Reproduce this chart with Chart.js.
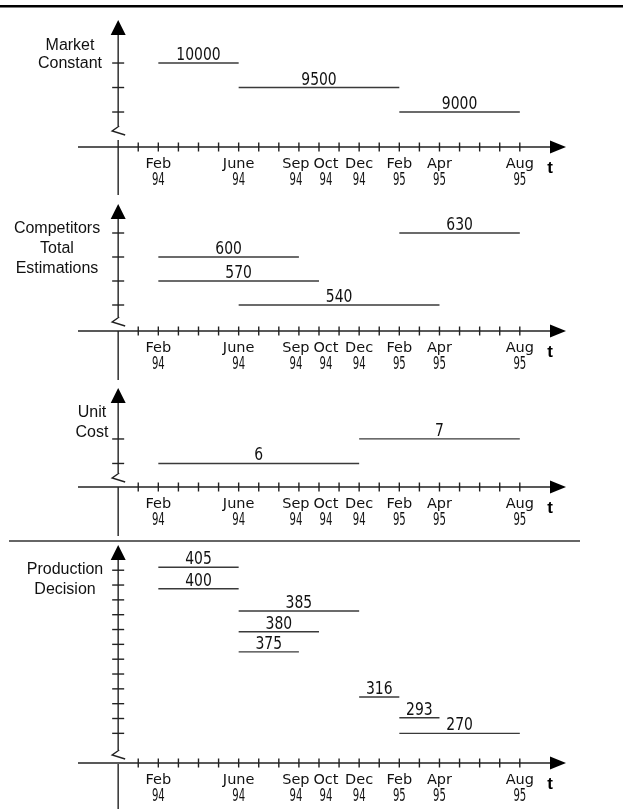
<!DOCTYPE html>
<html lang="en">
<head>
<meta charset="UTF-8">
<title>Decision timeline</title>
<script src="https://cdn.jsdelivr.net/npm/chart.js"></script>
<style>
  body { margin: 0; background: #fff; }
  #page { position: relative; width: 623px; height: 809px; }
  canvas { position: absolute; left: 0; }
</style>
</head>
<body>
<div id="page">
  <canvas id="market" width="623" height="195" style="top:0px"></canvas>
  <canvas id="comp" width="623" height="185" style="top:195px"></canvas>
  <canvas id="cost" width="623" height="156" style="top:380px"></canvas>
  <canvas id="prod" width="623" height="273" style="top:536px"></canvas>
</div>

<script>
// months counted from Dec 93 = 0
const tickMonths = [2, 6, 9, 10, 12, 14, 16, 20];
const tickNames = ['Feb', 'June', 'Sep', 'Oct', 'Dec', 'Feb', 'Apr', 'Aug'];
const tickYears = ['94', '94', '94', '94', '94', '95', '95', '95'];

const marketStart = [2, 6, 14];
const marketEnd = [6, 14, 20];
const marketValue = [10000, 9500, 9000];
const marketTicks = [9000, 9500, 10000];

const compStart = [14, 2, 2, 6];
const compEnd = [20, 9, 10, 16];
const compValue = [630, 600, 570, 540];
const compTicks = [540, 570, 600, 630];

const costStart = [12, 2];
const costEnd = [20, 12];
const costValue = [7, 6];
const costTicks = [6, 7];

// production decisions are stacked on a schematic scale, not to value
const prodStart = [2, 2, 6, 6, 6, 12, 14, 14];
const prodEnd = [6, 6, 12, 10, 9, 14, 16, 20];
const prodValue = [405, 400, 385, 380, 375, 316, 293, 270];
const prodLevel = [13.2, 11.75, 10.25, 8.85, 7.5, 4.45, 3.05, 2.0];
const prodTicks = [2, 3, 4, 5, 6, 7, 8, 9, 10, 11, 12, 13];

function line(ctx, x1, y1, x2, y2) {
  ctx.beginPath();
  ctx.moveTo(x1, y1);
  ctx.lineTo(x2, y2);
  ctx.stroke();
}

function tri(ctx, pts) {
  ctx.beginPath();
  ctx.moveTo(pts[0], pts[1]);
  ctx.lineTo(pts[2], pts[3]);
  ctx.lineTo(pts[4], pts[5]);
  ctx.closePath();
  ctx.fill();
}

// narrow text: squeeze horizontally around the anchor
function squeezed(ctx, s, x, y, font, sx) {
  ctx.save();
  ctx.translate(x, y);
  ctx.scale(sx, 1);
  ctx.font = font;
  ctx.fillText(s, 0, 0);
  ctx.restore();
}

const labelShift = { 9: -3, 10: 7 };

const schema = {
  id: 'schema',
  afterDraw(chart, args, o) {
    const ctx = chart.ctx;
    const xs = chart.scales.x, ys = chart.scales.y, a = chart.chartArea;
    const x0 = xs.getPixelForValue(0);
    const yAx = a.bottom;
    ctx.save();

    if (o.rule) {
      ctx.fillStyle = o.rule.color;
      ctx.fillRect(o.rule.x1, o.rule.y, o.rule.x2 - o.rule.x1, o.rule.w);
    }

    ctx.strokeStyle = '#222';
    ctx.fillStyle = '#000';
    ctx.lineWidth = 1.4;

    // y axis with break
    const c = yAx - o.breakOff;
    line(ctx, x0, a.top + 14, x0, c - 6);
    line(ctx, x0, c + 8, x0, chart.height);
    ctx.beginPath();
    ctx.moveTo(x0 + 1, c - 6);
    ctx.lineTo(x0 - 6, c - 1);
    ctx.lineTo(x0 + 7, c + 3);
    ctx.stroke();
    o.yTicks.forEach(v => {
      const y = ys.getPixelForValue(v);
      line(ctx, x0 - 6, y, x0 + 6, y);
    });
    tri(ctx, [x0, a.top, x0 - 7.5, a.top + 15, x0 + 7.5, a.top + 15]);

    // x axis
    line(ctx, a.left, yAx, a.right - 12, yAx);
    xs.ticks.forEach(t => {
      const x = xs.getPixelForValue(t.value);
      line(ctx, x, yAx - 4.5, x, yAx + 4.5);
    });
    tri(ctx, [a.right, yAx, a.right - 16, yAx - 6.5, a.right - 16, yAx + 6.5]);

    ctx.textAlign = 'center';
    ctx.textBaseline = 'alphabetic';
    ctx.font = 'bold 17px "Liberation Sans", Arial, sans-serif';
    ctx.fillText('t', a.right - 16, yAx + 26);

    // month / year labels
    ctx.fillStyle = '#111';
    xs.ticks.forEach(t => {
      const k = tickMonths.indexOf(t.value);
      if (k < 0) return;
      const x = xs.getPixelForValue(t.value) + (labelShift[t.value] || 0);
      ctx.font = '14.5px "DejaVu Sans", sans-serif';
      ctx.fillText(tickNames[k], x, yAx + 21);
      squeezed(ctx, tickYears[k], x, yAx + 38, '17px "DejaVu Sans Condensed", sans-serif', 0.66);
    });

    // axis title
    ctx.font = '16px "Liberation Sans", Arial, sans-serif';
    o.title.forEach((s, i) => ctx.fillText(s, o.titleX, o.titleY + i * o.titleLH));

    // segment values
    chart.data.datasets.forEach((d, i) => {
      const pts = chart.getDatasetMeta(i).data;
      squeezed(ctx, d.label, (pts[0].x + pts[1].x) / 2, pts[0].y - 3,
        '18px "DejaVu Sans Condensed", sans-serif', 0.86);
    });
    ctx.restore();
  }
};

function makePanel(id, p) {
  const datasets = p.start.map((s, i) => ({
    label: String(p.value[i]),
    data: [{ x: s, y: p.level[i] }, { x: p.end[i], y: p.level[i] }],
    borderColor: '#3a3a3a',
    borderWidth: 1.3,
    pointRadius: 0,
    fill: false,
    tension: 0
  }));

  return new Chart(document.getElementById(id), {
    type: 'line',
    data: { datasets },
    options: {
      responsive: false,
      animation: false,
      events: [],
      layout: { padding: { top: p.padTop, left: 78, right: 57, bottom: 0 } },
      plugins: {
        legend: { display: false },
        tooltip: { enabled: false },
        schema: {
          yTicks: p.ticks, title: p.title, titleX: p.titleX, titleY: p.titleY,
          titleLH: p.titleLH, breakOff: p.breakOff, rule: p.rule
        }
      },
      scales: {
        x: {
          type: 'linear', min: -2, max: 22.3,
          afterBuildTicks: s => {
            s.ticks = [];
            for (let m = 1; m <= 20; m++) s.ticks.push({ value: m });
          },
          afterFit: s => { s.height = p.xH; s.paddingLeft = 0; s.paddingRight = 0; },
          grid: { display: false },
          border: { display: false },
          ticks: { display: false }
        },
        y: { type: 'linear', display: false, min: p.yMin, max: p.yMax }
      }
    },
    plugins: [schema]
  });
}

makePanel('market', {
  start: marketStart, end: marketEnd, value: marketValue, level: marketValue, ticks: marketTicks,
  yMin: 8286, yMax: 10878, padTop: 20, xH: 48, breakOff: 15,
  title: ['Market', 'Constant'], titleX: 70, titleY: 50, titleLH: 18,
  rule: { x1: 0, x2: 623, y: 5, w: 2.5, color: '#000' }
});

makePanel('comp', {
  start: compStart, end: compEnd, value: compValue, level: compValue, ticks: compTicks,
  yMin: 507.5, yMax: 666.25, padTop: 9, xH: 49, breakOff: 8,
  title: ['Competitors', 'Total', 'Estimations'], titleX: 57, titleY: 38, titleLH: 20
});

makePanel('cost', {
  start: costStart, end: costEnd, value: costValue, level: costValue, ticks: costTicks,
  yMin: 5.04, yMax: 9.08, padTop: 8, xH: 49, breakOff: 8,
  title: ['Unit', 'Cost'], titleX: 92, titleY: 37, titleLH: 20
});

makePanel('prod', {
  start: prodStart, end: prodEnd, value: prodValue, level: prodLevel, ticks: prodTicks,
  yMin: 0, yMax: 14.7, padTop: 9, xH: 46, breakOff: 7,
  title: ['Production', 'Decision'], titleX: 65, titleY: 38, titleLH: 20,
  rule: { x1: 9, x2: 580, y: 4, w: 2, color: '#666' }
});
</script>
</body>
</html>
